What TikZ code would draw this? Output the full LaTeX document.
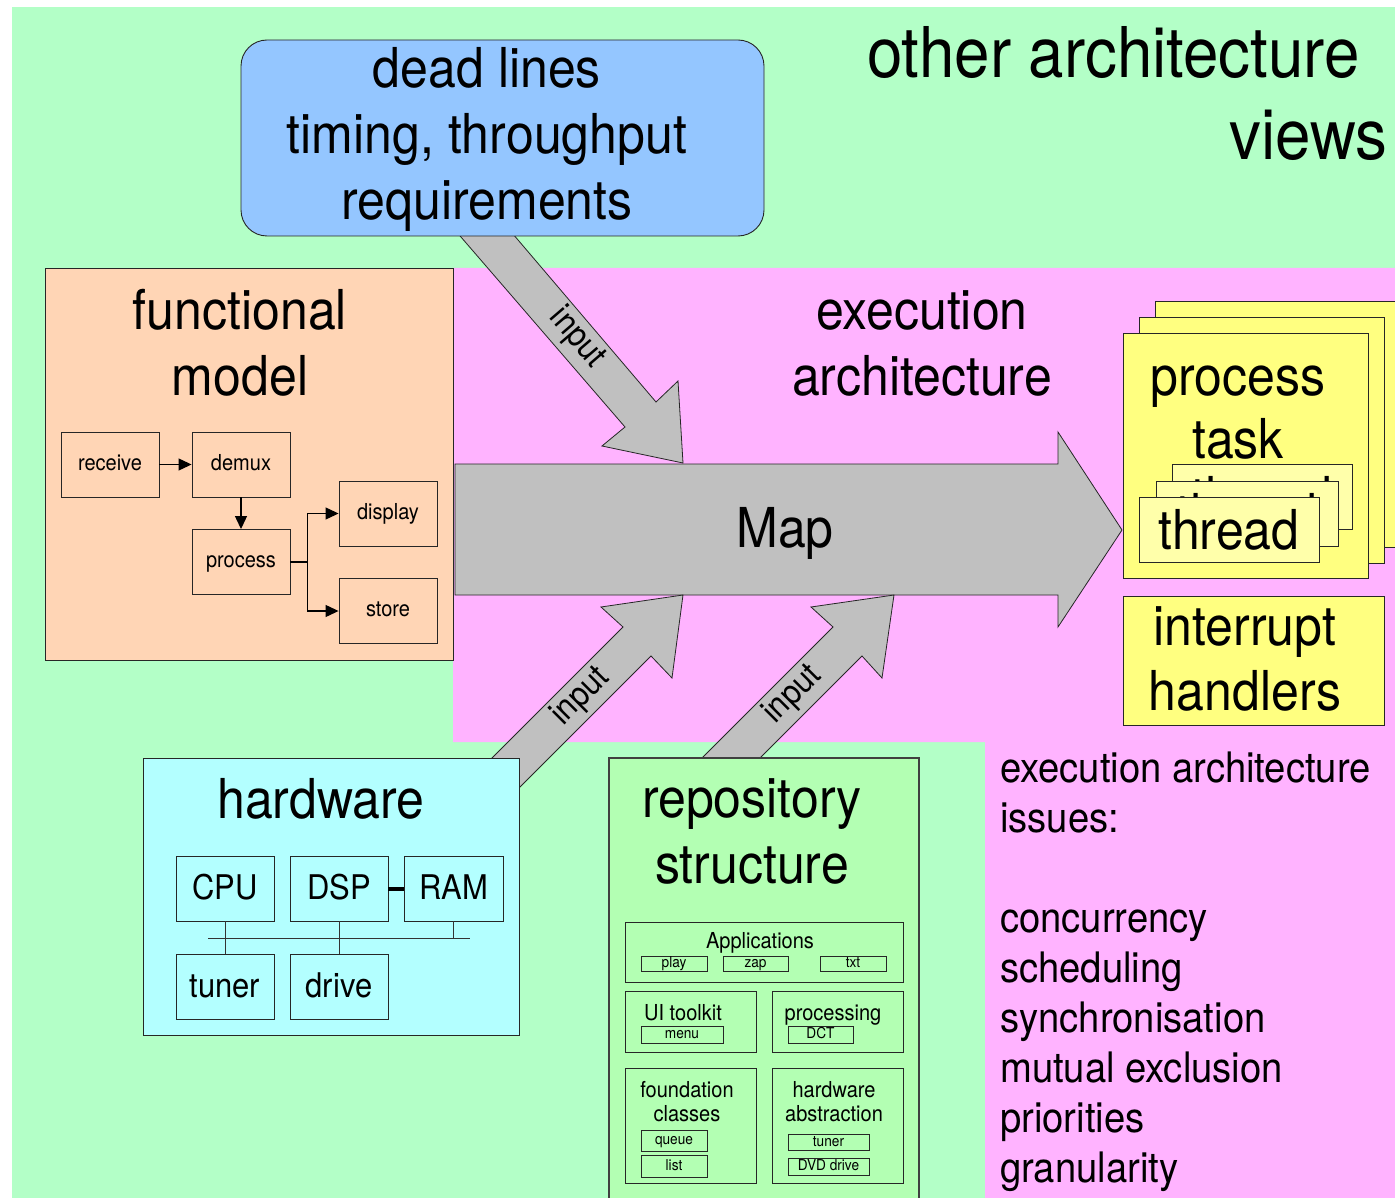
\documentclass[tikz,border=0pt]{standalone}
\usepackage{fontspec}
\setmainfont{TeX Gyre Heros}[FakeStretch=0.91]
\usetikzlibrary{arrows.meta}
\definecolor{viewgreen}{HTML}{B3FFC7}
\definecolor{execpink}{HTML}{FFB3FF}
\definecolor{deadblue}{HTML}{94C6FF}
\definecolor{funcpeach}{HTML}{FFD5B5}
\definecolor{hwcyan}{HTML}{B3FFFF}
\definecolor{repogreen}{HTML}{B3FFB3}
\definecolor{procyellow}{HTML}{FFFF80}
\definecolor{threadyellow}{HTML}{FFFFAA}
\definecolor{mapgray}{HTML}{C0C0C0}
\newcommand{\bigtxt}{\fontsize{55}{66}\selectfont}
\newcommand{\listtxt}{\fontsize{42}{50}\selectfont}
\tikzset{
  edge/.style={draw=black!85, line width=0.9pt},
  fbox/.style={edge, minimum width=98pt, minimum height=65pt, inner sep=0pt, text height=16pt, text depth=5pt, font=\fontsize{22}{26}\selectfont},
  hbox/.style={edge, minimum width=98pt, minimum height=65pt, inner sep=0pt, text height=24pt, text depth=2pt, font=\fontsize{34}{40}\selectfont},
  rbox/.style={edge, inner sep=0pt},
  rtag/.style={edge, line width=0.8pt, inner sep=0pt, text height=11pt, text depth=3pt, font=\fontsize{15}{18}\selectfont},
  rlbl/.style={inner sep=0pt, align=center, anchor=base, font=\fontsize{22}{24}\selectfont},
  bigarrow/.style={fill=mapgray, draw=black!85, line width=0.8pt},
  arrowlbl/.style={inner sep=0pt, font=\fontsize{34}{40}\selectfont},
  title/.style={inner sep=0pt, align=center, anchor=base, font=\bigtxt},
  ybox/.style={edge, fill=procyellow},
  tbox/.style={edge, fill=threadyellow, minimum width=180pt, minimum height=65pt, inner sep=0pt, font=\bigtxt},
  flow/.style={-{Triangle[length=13pt,width=12pt]}, line width=1.2pt},
}

\begin{document}
\begin{tikzpicture}[x=1pt,y=-1pt]
	\useasboundingbox (0,0) rectangle (1395,1198);
	\fill[white] (0,0) rectangle (1395,1198);
	\fill[viewgreen] (12,7) rectangle (1395,1198);
	\fill[execpink] (453,268) -- (1395,268) -- (1395,1198) -- (985,1198) -- (985,742) -- (453,742) -- cycle;
	%
	\node[anchor=base east, inner sep=0pt, font=\fontsize{70}{82}\selectfont] (other) at (1360,78) {other architecture};
	\node[anchor=base east, inner sep=0pt, font=\fontsize{70}{82}\selectfont] (views) at (1388,160) {views};
	%
	% functional model
	\fill[funcpeach] (45,268) rectangle (453,660);
	\draw[edge] (45,268) rectangle (453,660);
	\node[title] (fmtitle) at (240,395) {functional\\model};
	\node[fbox] (receive) at (110,464.5) {receive};
	\node[fbox] (demux)   at (241,464.5) {demux};
	\node[fbox] (fproc)   at (241,562)   {process};
	\node[fbox] (display) at (388,513.5) {display};
	\node[fbox] (store)   at (388,611)   {store};
	\draw[flow] (receive) -- (demux);
	\draw[flow] (demux) -- (fproc);
	\draw[flow] (fproc.east) -- ++(17,0) |- (display.west);
	\draw[flow] (fproc.east) -- ++(17,0) |- (store.west);
	%
	% map and input arrows
	\draw[bigarrow] (455,464) -- (1058,464) -- (1058,432) -- (1122,530) -- (1058,627) -- (1058,595) -- (455,595) -- cycle;
	\node[title] (map) at (785,547) {Map};
	\draw[bigarrow] (429,200) -- (484,200) -- (656,402) -- (678,381) -- (683,463) -- (602,446) -- (625,427) -- cycle;
	\draw[bigarrow] (450,800) -- (623,627) -- (601,607) -- (683,595) -- (672,678) -- (651,656) -- (507,800) -- cycle;
	\draw[bigarrow] (670,790) -- (833,627) -- (811,607) -- (894,595) -- (882,678) -- (862,656) -- (728,790) -- cycle;
	\node[arrowlbl, rotate=-49.3] (in1) at (577,338) {input};
	\node[arrowlbl, rotate=45] (in2) at (581,697) {input};
	\node[arrowlbl, rotate=45] (in3) at (793,695) {input};
	%
	% dead lines
	\draw[edge, fill=deadblue, rounded corners=26pt] (241,40) rectangle (764,236);
	\node[title] (dead) at (487,220) {dead lines\\timing, throughput\\requirements};
	%
	\node[title] (exectitle) at (922,395) {execution\\architecture};
	%
	% hardware
	\fill[hwcyan] (143,758) rectangle (519,1035);
	\draw[edge] (143,758) rectangle (519,1035);
	\node[title] (hwtitle) at (321,818) {hardware};
	\node[hbox] (cpu)   at (225,888.5) {CPU};
	\node[hbox] (dsp)   at (339,888.5) {DSP};
	\node[hbox, minimum width=99pt] (ram) at (453.5,888.5) {RAM};
	\node[hbox] (tuner) at (225,986.5) {tuner};
	\node[hbox] (drive) at (339,986.5) {drive};
	\coordinate (busL) at (208,938);
	\coordinate (busR) at (470,938);
	\draw[black!80, line width=1pt] (busL) -- (busR);
	\draw[black!80, line width=1pt] (cpu) -- (tuner);
	\draw[black!80, line width=1pt] (dsp) -- (drive);
	\draw[black!80, line width=1pt] (ram.south) -- (ram.south |- busL);
	\draw[line width=4pt] (dsp.east) -- (ram.west);
	%
	% repository structure
	\fill[repogreen] (609,758) rectangle (919,1215);
	\draw[draw=black!75, line width=1.3pt] (609,1215) -- (609,758) -- (919,758) -- (919,1215);
	\node[title] (repotitle) at (752,883) {repository\\structure};
	\node[rbox, minimum width=278pt, minimum height=60pt] (apps) at (764,952) {};
	\node[rlbl] (appslbl) at (760,948) {Applications};
	\node[rtag, minimum width=66pt, minimum height=15pt] (play) at (674,963.5) {play};
	\node[rtag, minimum width=65pt, minimum height=15pt] (zap)  at (755.5,963.5) {zap};
	\node[rtag, minimum width=66pt, minimum height=15pt] (txt)  at (853,963.5) {txt};
	%
	\node[rbox, minimum width=131pt, minimum height=61pt] (uikit) at (690.5,1021.5) {};
	\node[rlbl] (uilbl) at (683,1020) {UI toolkit};
	\node[rtag, minimum width=82pt, minimum height=17pt] (menu) at (682,1034.5) {menu};
	\node[rbox, minimum width=131pt, minimum height=61pt] (procbox) at (837.5,1021.5) {};
	\node[rlbl] (proclbl) at (833,1020) {processing};
	\node[rtag, minimum width=65pt, minimum height=17pt] (dct) at (820.5,1034.5) {DCT};
	%
	\node[rbox, minimum width=131pt, minimum height=115pt] (found) at (690.5,1125.5) {};
	\node[rlbl] (foundlbl) at (687,1121) {foundation\\classes};
	\node[rtag, minimum width=66pt, minimum height=21pt] (queue) at (674,1140.5) {queue};
	\node[rtag, minimum width=66pt, minimum height=22pt] (list)  at (674,1166) {list};
	\node[rbox, minimum width=131pt, minimum height=115pt] (hwabs) at (837.5,1125.5) {};
	\node[rlbl] (hwabslbl) at (834,1121) {hardware\\abstraction};
	\node[rtag, minimum width=81pt, minimum height=16pt] (hwtuner) at (828.5,1142) {tuner};
	\node[rtag, minimum width=81pt, minimum height=17pt] (dvd) at (828.5,1166.5) {DVD drive};
	%
	% processes and threads
	\draw[ybox] (1155,301) rectangle (1400,547);
	\draw[ybox] (1139,317) rectangle (1384,563);
	\draw[ybox] (1123,333) rectangle (1368,578);
	\node[title, font=\fontsize{55}{63}\selectfont] (proctitle) at (1238,458) {process\\task};
	\node[tbox] (thread3) at (1262,496.5) {thread};
	\node[tbox, minimum width=182pt] (thread2) at (1247,513.5) {thread};
	\node[tbox] (thread1) at (1229,529.5) {thread};
	%
	\draw[ybox] (1123,596) rectangle (1384,725);
	\node[title, font=\fontsize{55}{65}\selectfont] (irq) at (1245,710) {interrupt\\handlers};
	%
	\node[anchor=base west, align=left, inner sep=0pt, font=\listtxt] (issues) at (1000,1182)
		{execution architecture\\issues:\\[50pt]concurrency\\scheduling\\synchronisation\\mutual exclusion\\priorities\\granularity};
\end{tikzpicture}
\end{document}
